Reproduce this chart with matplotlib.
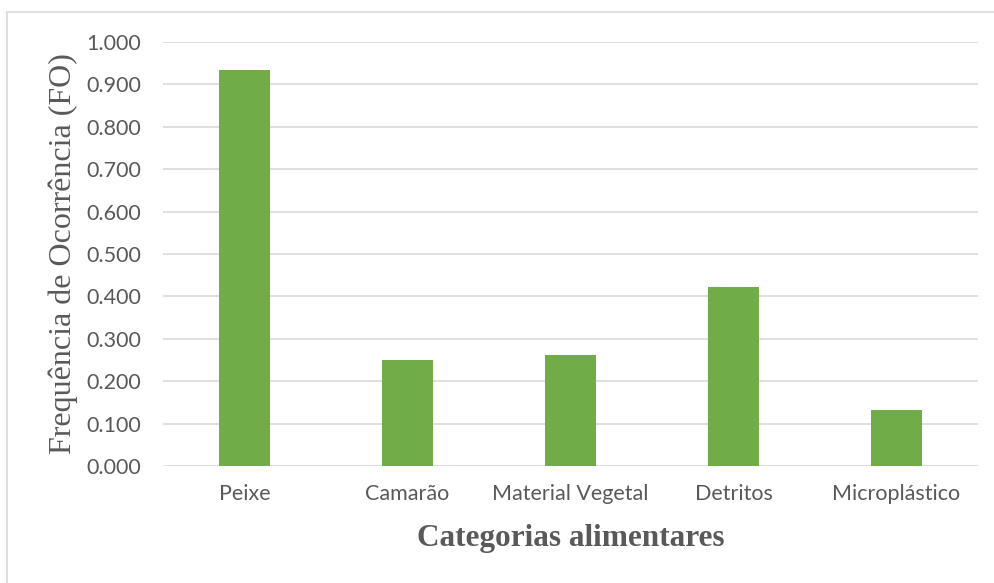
import numpy as np
import matplotlib.pyplot as plt
from matplotlib.patches import Rectangle

categorias = ['Peixe', 'Camarão', 'Material Vegetal', 'Detritos', 'Microplástico']
fo = [0.934, 0.249, 0.262, 0.421, 0.131]
yticks = [0.0, 0.1, 0.2, 0.3, 0.4, 0.5, 0.6, 0.7, 0.8, 0.9, 1.0]

W, H = 994, 583
fig = plt.figure(figsize=(W/100, H/100), dpi=100)
# borda do grafico (so aparece em cima e a esquerda)
fig.patches.append(Rectangle((7/W, -0.1), 1.1, 1.1 - 12/H, transform=fig.transFigure,
                             fill=False, edgecolor='#d9d9d9', linewidth=1.2))

ax = fig.add_axes([163/W, 1-466/H, (978-163)/W, (466-42)/H])
x = np.arange(len(categorias))
ax.bar(x, fo, width=0.313, color='#70ad47', zorder=3)
ax.set_xlim(-0.5, len(categorias)-0.5)
ax.set_ylim(0, 1.0)
ax.set_yticks(yticks)
ax.set_yticklabels(['%.3f' % v for v in yticks])
ax.set_xticks(x)
ax.set_xticklabels(categorias)
ax.yaxis.grid(True, color='#d9d9d9', linewidth=1.2, zorder=0)
for s in ax.spines.values():
    s.set_visible(False)
ax.tick_params(length=0, labelsize=15.5, labelcolor='#595959', pad=16)
ax.tick_params(axis='x', pad=13)
for t in ax.get_xticklabels() + ax.get_yticklabels():
    t.set_fontfamily('Lato')

ax.set_ylabel('Frequência de Ocorrência (FO)', fontfamily='Liberation Serif',
              fontsize=23, color='#595959')
ax.yaxis.set_label_coords(-0.104, 0.5)
ax.set_xlabel('Categorias alimentares', fontfamily='Liberation Serif',
              fontsize=22.5, fontweight='bold', color='#595959')
ax.xaxis.set_label_coords(0.5, -0.137)

plt.savefig('out.png', dpi=100)
